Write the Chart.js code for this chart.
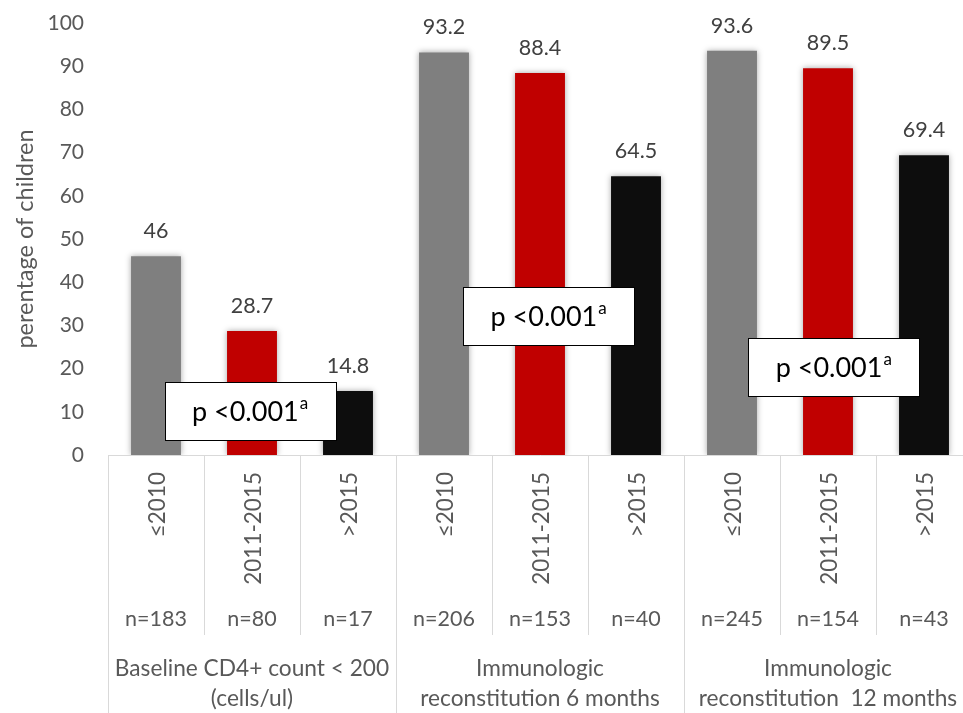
<!DOCTYPE html>
<html>
<head>
<meta charset="utf-8">
<script src="https://cdn.jsdelivr.net/npm/chart.js@4.4.1/dist/chart.umd.min.js"></script>
<style>
  html, body { margin: 0; padding: 0; background: #ffffff; overflow: hidden; }
  #wrap { width: 963px; height: 713px; overflow: hidden; position: relative; }
  canvas { display: block; }
</style>
</head>
<body>
<div id="wrap"><canvas id="c" width="980" height="713"></canvas></div>
<script>
// ---- data ----
const groupLabels = [
  ['Baseline CD4+ count < 200', '(cells/ul)'],
  ['Immunologic', 'reconstitution 6 months'],
  ['Immunologic', 'reconstitution  12 months']
];
const periods = ['\u22642010', '2011-2015', '>2015'];
const categories = ['\u22642010', '2011-2015', '>2015', '\u22642010', '2011-2015', '>2015', '\u22642010', '2011-2015', '>2015'];
const values = [46, 28.7, 14.8, 93.2, 88.4, 64.5, 93.6, 89.5, 69.4];
const nCounts = ['n=183', 'n=80', 'n=17', 'n=206', 'n=153', 'n=40', 'n=245', 'n=154', 'n=43'];
const yTickMin = 0, yTickMax = 100, yTickStep = 10;
const yTitle = 'perentage of children';
const pText = 'p <0.001';
const pSup = 'a';
// p-value box anchors (category index, y value)
const pBoxX = [0.98, 4.09, 7.06];
const pBoxY = [10.2, 32.2, 20.3];

// ---- styles ----
const FONT = 'Lato';
const periodColors = ['#7f7f7f', '#c00000', '#0d0d0d'];
const barColors = categories.map((c, i) => periodColors[i % 3]);
const tickColor = '#595959';
const labelColor = '#404040';
const lineColor = '#d9d9d9';

const labelsPlugin = {
  id: 'customLabels',
  beforeDatasetsDraw(chart) {
    const ctx = chart.ctx;
    ctx.save();
    ctx.shadowColor = 'rgba(0,0,0,0.35)';
    ctx.shadowBlur = 6;
  },
  afterDatasetsDraw(chart) {
    const ctx = chart.ctx;
    ctx.restore();
    // data labels
    const meta = chart.getDatasetMeta(0);
    ctx.save();
    ctx.fillStyle = labelColor;
    ctx.font = '21.5px ' + FONT;
    ctx.textAlign = 'center';
    ctx.textBaseline = 'alphabetic';
    meta.data.forEach((bar, i) => {
      ctx.fillText(String(values[i]), bar.x, bar.y - 18);
    });
    ctx.restore();
    // p-value boxes
    const xs = chart.scales.x, ys = chart.scales.y;
    ctx.save();
    for (let k = 0; k < pBoxX.length; k++) {
      const cx = xs.getPixelForValue(pBoxX[k]);
      const cy = ys.getPixelForValue(pBoxY[k]);
      const w = 171, h = 58;
      const x0 = Math.round(cx - w / 2) + 0.5, y0 = Math.round(cy - h / 2) + 0.5;
      ctx.fillStyle = '#ffffff';
      ctx.fillRect(x0, y0, w, h);
      ctx.strokeStyle = '#000000';
      ctx.lineWidth = 1;
      ctx.strokeRect(x0, y0, w, h);
      ctx.font = '27px ' + FONT;
      const mw = ctx.measureText(pText).width;
      ctx.font = '17px ' + FONT;
      const sw = ctx.measureText(pSup).width;
      const tx = cx - (mw + sw + 1) / 2;
      ctx.fillStyle = '#000000';
      ctx.textAlign = 'left';
      ctx.textBaseline = 'alphabetic';
      ctx.font = '27px ' + FONT;
      ctx.fillText(pText, tx, cy + 10);
      ctx.font = '17px ' + FONT;
      ctx.fillText(pSup, tx + mw + 1, cy - 2);
    }
    ctx.restore();
  },
  afterDraw(chart) {
    const ctx = chart.ctx;
    const xs = chart.scales.x;
    ctx.save();
    ctx.fillStyle = tickColor;
    // rotated period labels
    ctx.font = '22.5px ' + FONT;
    categories.forEach((c, i) => {
      const x = xs.getPixelForValue(i);
      ctx.save();
      ctx.translate(x + 2, xs.top + 17);
      ctx.rotate(-Math.PI / 2);
      ctx.textAlign = 'right';
      ctx.textBaseline = 'middle';
      ctx.fillText(c, 0, 0);
      ctx.restore();
    });
    // n labels
    ctx.font = '21.5px ' + FONT;
    ctx.textAlign = 'center';
    ctx.textBaseline = 'middle';
    nCounts.forEach((n, i) => {
      ctx.fillText(n, xs.getPixelForValue(i), xs.top + 164);
    });
    // group labels
    ctx.font = '22.7px ' + FONT;
    groupLabels.forEach((lines, g) => {
      const x = (xs.getPixelForValue(3 * g) + xs.getPixelForValue(3 * g + 2)) / 2;
      lines.forEach((t, j) => ctx.fillText(t, x, xs.top + 214 + j * 30));
    });
    // group separators
    ctx.strokeStyle = lineColor;
    ctx.lineWidth = 1;
    for (let g = 0; g <= groupLabels.length; g++) {
      const x = Math.round(xs.getPixelForValue(3 * g - 0.5)) + 0.5;
      ctx.beginPath();
      ctx.moveTo(x, xs.top);
      ctx.lineTo(x, chart.height);
      ctx.stroke();
    }
    ctx.restore();
  }
};

new Chart(document.getElementById('c'), {
  type: 'bar',
  data: {
    labels: categories,
    datasets: [{
      data: values,
      backgroundColor: barColors,
      borderWidth: 0,
      barPercentage: 0.52,
      categoryPercentage: 1.0
    }]
  },
  options: {
    responsive: false,
    animation: false,
    devicePixelRatio: 1,
    layout: { padding: { top: 23, right: 8, left: 0, bottom: 0 } },
    plugins: { legend: { display: false }, tooltip: { enabled: false } },
    scales: {
      x: {
        offset: true,
        ticks: { display: false },
        grid: { display: true, offset: true, drawOnChartArea: false, drawTicks: true, tickLength: 180, color: lineColor, lineWidth: 1 },
        border: { display: true, color: lineColor, width: 1 },
        afterFit(s) { s.height = 258; s.paddingLeft = 0; s.paddingRight = 0; }
      },
      y: {
        min: yTickMin, max: yTickMax,
        ticks: { stepSize: yTickStep, color: tickColor, font: { family: FONT, size: 21 }, padding: 24 },
        grid: { display: false, drawTicks: false },
        border: { display: false },
        title: { display: true, text: yTitle, color: tickColor, font: { family: FONT, size: 23.5 }, padding: { top: 11, bottom: 0 } },
        afterFit(s) { s.width = 108; s.paddingTop = 0; s.paddingBottom = 0; }
      }
    }
  },
  plugins: [labelsPlugin]
});
</script>
</body>
</html>
